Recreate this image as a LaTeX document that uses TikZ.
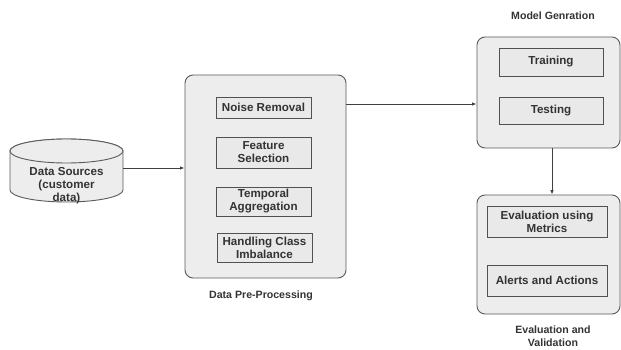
\documentclass[tikz,border=0pt]{standalone}
\usepackage{fontspec}
\setmainfont{Liberation Sans}
\usetikzlibrary{arrows.meta}
\definecolor{panel}{HTML}{EDEDED}
\definecolor{inner}{HTML}{E9E9E9}
\definecolor{edge}{HTML}{5A5A5A}
\definecolor{ink}{HTML}{333333}
\tikzset{
  panelbox/.style={draw=edge, line width=0.9pt, fill=panel, rounded corners=8pt, inner sep=0pt},
  subbox/.style={draw=edge!90!black, line width=0.8pt, fill=inner, inner sep=0pt, align=center,
    font=\fontsize{11.6}{13}\selectfont\bfseries, text=ink},
  caption/.style={font=\fontsize{10.6}{13}\selectfont\bfseries, text=ink, align=center},
  arr/.style={draw=black!75, line width=0.8pt, -{Latex[length=4.5pt,width=3.5pt]}},
  cyl/.style={draw=edge, line width=0.9pt, fill=panel}
}
\begin{document}
\begin{tikzpicture}[x=1pt, y=-1pt]
\useasboundingbox (0,0) rectangle (621,350);

% data source cylinder
\path[cyl] (10,151) -- (10,190) arc[start angle=180, end angle=0, x radius=56.5, y radius=12]
  -- (123,151) arc[start angle=0, end angle=-180, x radius=56.5, y radius=12] -- cycle;
\draw[cyl] (66.5,151) ellipse[x radius=56.5, y radius=12];
\node[inner sep=0pt, minimum width=113pt, minimum height=75pt] (src) at (66.5,176.5) {};
\node[caption, font=\fontsize{11.6}{13}\selectfont\bfseries] (srctxt) at (66.5,186) {Data Sources\\(customer\\data)};

% pre-processing panel
\node[panelbox, minimum width=161pt, minimum height=203pt] (pre) at (265.5,176.5) {};
\node[subbox, minimum width=95pt, minimum height=21pt] (noise) at (263.5,107.5) {Noise Removal};
\node[subbox, minimum width=95pt, minimum height=31pt] (feat) at (263.5,152.5) {Feature\\Selection};
\node[subbox, minimum width=95pt, minimum height=29pt] (temp) at (263.5,201.5) {Temporal\\Aggregation};
\node[subbox, minimum width=95pt, minimum height=29pt] (imb) at (264.5,247.5) {Handling Class\\Imbalance};
\node[caption] (prelbl) at (261,296) {Data Pre-Processing};

% model generation panel
\node[panelbox, minimum width=143pt, minimum height=111pt] (model) at (548.5,92.5) {};
\node[subbox, minimum width=104pt, minimum height=28pt] (train) at (551,62) {Training};
\node[subbox, minimum width=104pt, minimum height=27pt] (test) at (551,110.5) {Testing};
\node[caption] (modellbl) at (553,16) {Model Genration};

% evaluation panel
\node[panelbox, minimum width=143pt, minimum height=119pt] (eval) at (548.5,254.5) {};
\node[subbox, minimum width=120pt, minimum height=31pt] (metric) at (547,221.5) {Evaluation using\\Metrics};
\node[subbox, minimum width=120pt, minimum height=31pt] (alert) at (547,280.5) {Alerts and Actions};
\node[caption] (evallbl) at (553,336.5) {Evaluation and\\Validation};

% connectors
\draw[arr] ([yshift=8.5pt]src.east) -- ([yshift=8.5pt]pre.west);
\coordinate (modin) at ([yshift=-11.5pt]model.west);
\draw[arr] (pre.east |- modin) -- (modin);
\draw[arr] ([xshift=3.5pt]model.south) -- ([xshift=3.5pt]eval.north);
\end{tikzpicture}
\end{document}
